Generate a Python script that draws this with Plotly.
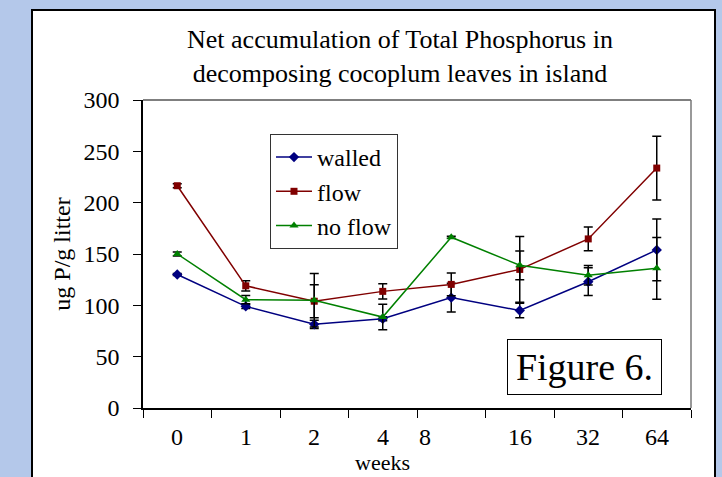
import plotly.graph_objects as go

weeks = ["0", "1", "2", "4", "8", "16", "32", "64"]
walled = [130, 99, 81.5, 87, 107.5, 95, 123, 154]
walled_err = [1, 2, 4, 2, 14, 7, 13.5, 30]
flow = [216.5, 119, 104, 113.6, 120.4, 135, 164.7, 233.7]
flow_err = [2, 5, 16, 7.5, 11, 32, 11.5, 31]
noflow = [150, 105.5, 105, 88.6, 166.3, 139, 129.4, 136]
noflow_err = [2, 4, 26, 12.5, 1, 14, 9.5, 30]

FONT = "Liberation Serif"
BG = "#b4c8ea"

fig = go.Figure()
series = [
    ("walled", walled, walled_err, "#000080", "diamond", 8),
    ("flow", flow, flow_err, "#800000", "square", 7),
    ("no flow", noflow, noflow_err, "#008000", "triangle-up", 8),
]
for name, vals, errs, col, sym, sz in series:
    fig.add_trace(go.Scatter(
        x=weeks, y=vals, name=name, mode="lines+markers",
        line=dict(color=col, width=1.5),
        marker=dict(color=col, symbol=sym, size=sz),
        error_y=dict(type="data", array=errs, visible=True, color="black",
                     thickness=1.5, width=4.5),
    ))

# outer white panel
fig.add_shape(type="rect", xref="paper", yref="paper",
              x0=(32 - 143) / 548, x1=(715 - 143) / 548,
              y0=(408 - 500) / 308, y1=(408 - 10) / 308,
              fillcolor="white", line=dict(color="black", width=2), layer="below")

fig.update_layout(
    width=722, height=477,
    margin=dict(l=143, r=31, t=100, b=69),
    paper_bgcolor=BG,
    plot_bgcolor="white",
    font=dict(family=FONT, size=24, color="black"),
    title=dict(text="Net accumulation of Total Phosphorus in<br>decomposing cocoplum leaves in island",
               x=400 / 722, xanchor="center", y=1 - 48 / 477, yanchor="middle",
               yref="container", font=dict(family=FONT, size=26)),
    showlegend=True,
    legend=dict(x=(270 - 143) / 548, y=(408 - 134) / 308, xanchor="left", yanchor="top",
                bordercolor="#333333", borderwidth=1, bgcolor="white",
                font=dict(family=FONT, size=24), tracegroupgap=0, itemwidth=36),
    xaxis=dict(type="category", range=[-0.5, 7.5], tickson="boundaries",
               showticklabels=False, ticks="outside", ticklen=8, tickcolor="black",
               showline=True, linecolor="black", linewidth=1.5, mirror=False,
               showgrid=False, zeroline=False),
    yaxis=dict(range=[0, 300], dtick=50, ticks="outside", ticklen=8, tickcolor="black",
               showline=True, linecolor="black", linewidth=1.5, showgrid=False,
               zeroline=False, ticklabelstandoff=9,
               tickfont=dict(family=FONT, size=24),
               title=dict(text="ug P/g litter", standoff=6,
                          font=dict(family=FONT, size=24))),
)
# box lines top/right
fig.add_shape(type="line", xref="paper", yref="paper", x0=0, x1=1, y0=1, y1=1,
              line=dict(color="#555555", width=1.5))
fig.add_shape(type="line", xref="paper", yref="paper", x0=1, x1=1, y0=0, y1=1,
              line=dict(color="#777777", width=1.5))

# category labels
shift = {"8": -26}
for i, w in enumerate(weeks):
    fig.add_annotation(x=i, xref="x", y=(408 - 437) / 308, yref="paper",
                       text=w, showarrow=False, xshift=shift.get(w, 0),
                       yanchor="middle", font=dict(family=FONT, size=24))
fig.add_annotation(x=3, xref="x", y=(408 - 462) / 308, yref="paper", text="weeks",
                   showarrow=False, yanchor="middle", font=dict(family=FONT, size=22))

fig.add_annotation(x=(584.5 - 143) / 548, xref="paper", y=(408 - 367) / 308, yref="paper",
                   text="Figure 6.", showarrow=False, font=dict(family=FONT, size=38),
                   bordercolor="black", borderwidth=1, borderpad=6, bgcolor="white",
                   width=141, height=42, xanchor="center", yanchor="middle")

fig.write_html("out.html", config={"displayModeBar": False},
               post_script="document.body.style.margin='0';"
                           "document.body.style.background='" + BG + "';")
